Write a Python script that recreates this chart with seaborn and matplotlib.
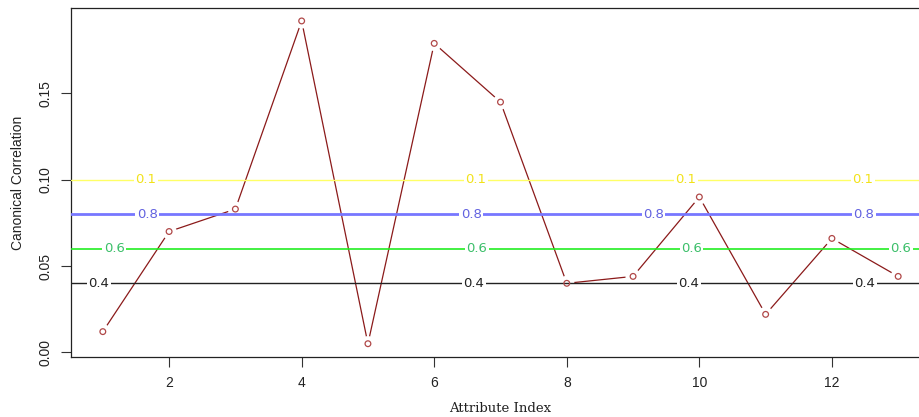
import matplotlib
matplotlib.use("Agg")
import matplotlib.pyplot as plt
import seaborn as sns
import pandas as pd
import numpy as np

attr_index = [1, 2, 3, 4, 5, 6, 7, 8, 9, 10, 11, 12, 13]
canon_corr = [0.012, 0.070, 0.083, 0.192, 0.005, 0.179, 0.145, 0.040, 0.044, 0.090, 0.022, 0.066, 0.044]

ref_levels = [0.10, 0.08, 0.06, 0.04]
ref_labels = ["0.1", "0.8", "0.6", "0.4"]
ref_line_colors = ["#FFFF66", "#7777FF", "#22EE22", "#222222"]
ref_text_colors = ["#F2E21A", "#6262E0", "#3CBF6A", "#222222"]
ref_widths = [1.0, 2.0, 1.2, 1.0]
label_x = [
    [1.645, 6.63, 9.80, 12.47],
    [1.67, 6.56, 9.31, 12.48],
    [1.17, 6.64, 9.88, 13.04],
    [0.94, 6.60, 9.84, 12.50],
]

df = pd.DataFrame({"idx": attr_index, "cc": canon_corr})

sns.set_style("white")
plt.rcParams["font.family"] = ["Liberation Sans", "DejaVu Sans"]

fig = plt.figure(figsize=(9.19, 4.17), dpi=100)
ax = fig.add_axes([71 / 919, 60 / 417, (930 - 71) / 919, (357 - 8) / 417])

sns.lineplot(data=df, x="idx", y="cc", color="#8B1A1A", lw=0.9, ax=ax, zorder=1)
ax.scatter(df["idx"], df["cc"], s=120, facecolor="white", edgecolor="none", zorder=2)

for lvl, lab, lc, tc, lw, xs in zip(ref_levels, ref_labels, ref_line_colors, ref_text_colors, ref_widths, label_x):
    ax.axhline(lvl, color=lc, lw=lw, zorder=3)
    for x in xs:
        ax.text(x, lvl, lab, color=tc, fontsize=9.5, family="DejaVu Sans", ha="center", va="center", zorder=4,
                bbox=dict(facecolor="white", edgecolor="none", pad=1.0))

ax.scatter(df["idx"], df["cc"], s=17, facecolor="none", edgecolor="#B04848", lw=0.9, zorder=5)

ax.set_xlim(0.52, 13.48)
ax.set_ylim(-0.0027, 0.1995)
ax.set_xticks([2, 4, 6, 8, 10, 12])
ax.set_yticks([0.00, 0.05, 0.10, 0.15])
ax.set_yticklabels(["0.00", "0.05", "0.10", "0.15"], rotation=90, va="center")
ax.tick_params(axis="both", direction="out", length=7, width=0.8, color="#333333",
               labelsize=10, labelcolor="#222222", left=True, bottom=True)
ax.tick_params(axis="y", pad=6)
ax.tick_params(axis="x", pad=7)
for s in ax.spines.values():
    s.set_visible(True)
    s.set_color("#222222")
    s.set_linewidth(0.9)

ax.set_xlabel("Attribute Index", family="DejaVu Serif", fontsize=9.5, color="#222222", labelpad=8)
ax.set_ylabel("Canonical Correlation", fontsize=10, color="#222222", labelpad=10)

fig.savefig("out.png", dpi=100)
